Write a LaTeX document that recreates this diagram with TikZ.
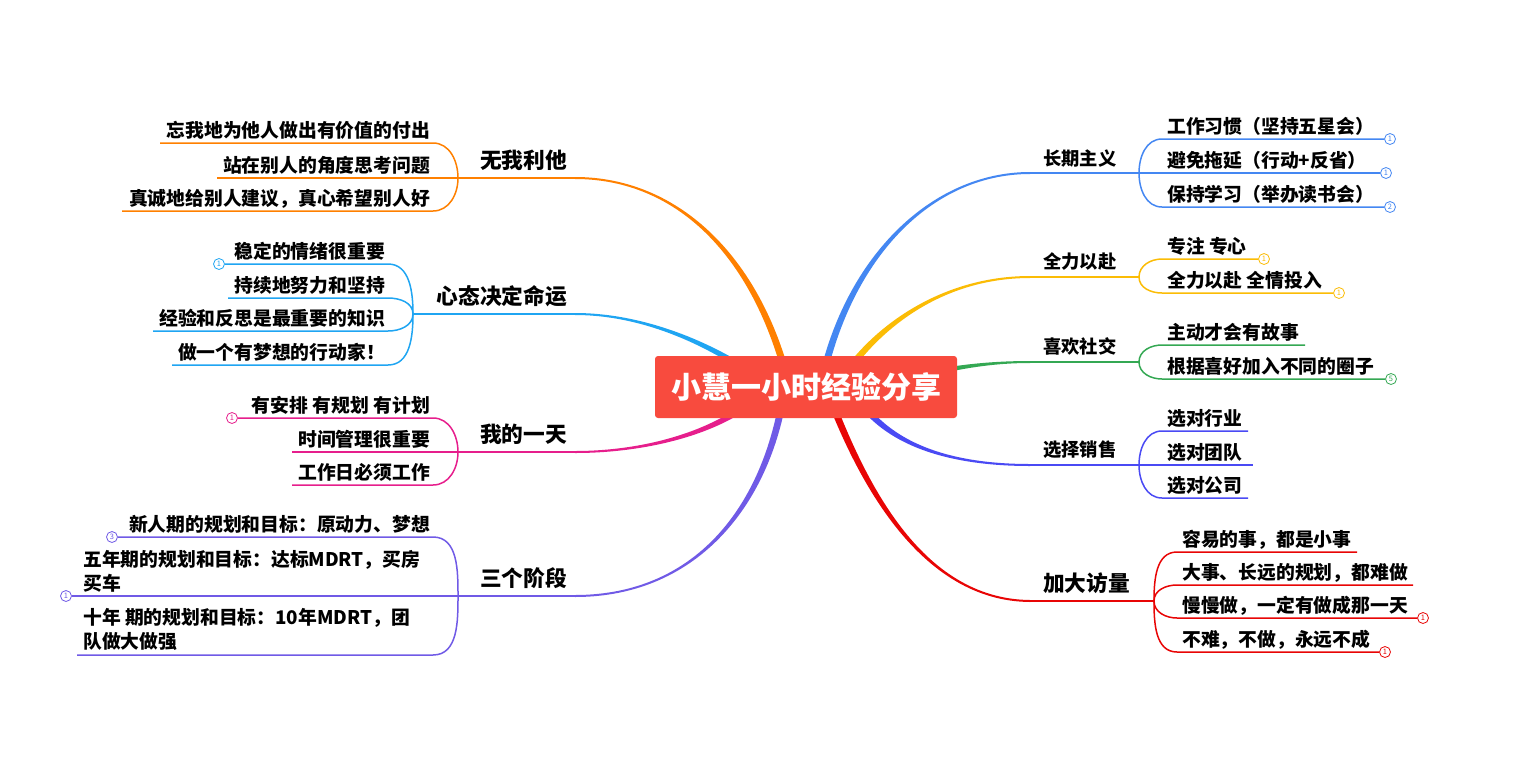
\documentclass[tikz,border=0pt]{standalone}
\usepackage{fontspec}
\setmainfont{Noto Sans CJK SC}
\usetikzlibrary{calc}
\pgfdeclarelayer{bg}
\pgfsetlayers{bg,main}
\definecolor{cOr}{HTML}{FF8000}
\definecolor{cLb}{HTML}{1FA5F2}
\definecolor{cMg}{HTML}{E61E8C}
\definecolor{cPu}{HTML}{705AE6}
\definecolor{cBl}{HTML}{4487F2}
\definecolor{cYe}{HTML}{FBBC05}
\definecolor{cGr}{HTML}{34A853}
\definecolor{cBv}{HTML}{4A4AF4}
\definecolor{cRd}{HTML}{E80505}
\definecolor{cRoot}{HTML}{F84B3E}
\tikzset{
 subl/.style={line width=1.5pt},
 mainu/.style={line width=2pt},
 subt/.style={inner sep=0pt, font=\bfseries\fontsize{18.8}{24}\selectfont},
 bigl/.style={inner sep=0pt, font=\bfseries\fontsize{21.7}{26}\selectfont},
 smalll/.style={inner sep=0pt, font=\bfseries\fontsize{18.3}{22}\selectfont},
 numdot/.style={circle, draw=#1, text=#1, fill=white, line width=0.8pt, minimum size=11pt, inner sep=0pt, font=\fontsize{7.5}{8}\selectfont},
 rootbox/.style={fill=cRoot, rounded corners=3pt, minimum width=302pt, minimum height=62pt, inner sep=0pt, text=white, font=\bfseries\fontsize{30}{34}\selectfont}
}
% tapered branch: color, start, control1, control2, end
\newcommand\taper[5]{%
 \coordinate (tA1) at ($#2!3.5pt!90:#3$);
 \coordinate (tA2) at ($#2!3.5pt!-90:#3$);
 \coordinate (tB1) at ($#5!1pt!-90:#4$);
 \coordinate (tB2) at ($#5!1pt!90:#4$);
 \fill[#1] (tA1) .. controls ($#3+(tA1)-#2$) and ($#4+(tB1)-#5$) .. (tB1) -- (tB2) .. controls ($#4+(tB2)-#5$) and ($#3+(tA2)-#2$) .. (tA2) -- cycle;
}
% left sub-topic: color, junction, junction x, out angle, y, line left x, name, text
\newcommand\lsub[8]{%
 \draw[subl,#1] (#2) to[out=#4,in=0] (#3-25,#5) -- (#6,#5);
 \node[subt,anchor=base east] (#7) at (#3-28,#5-5.5) {#8};
}
% right sub-topic: color, junction, junction x, out angle, y, line right x, name, text
\newcommand\rsub[8]{%
 \draw[subl,#1] (#2) to[out=#4,in=180] (#3+23,#5) -- (#6,#5);
 \node[subt,anchor=base west] (#7) at (#3+28,#5-5.5) {#8};
}
\begin{document}
\begin{tikzpicture}[x=1pt,y=-1pt]
\useasboundingbox (0,0) rectangle (1526,766);

\node[rootbox] (root) at (806,387) {小慧一小时经验分享};

% ---------- 无我利他 ----------
\coordinate (oJ) at (458,178); \coordinate (oE) at (575,178); \coordinate (oA) at (790,390);
\draw[mainu,cOr] (oE) -- (oJ);
\node[bigl,anchor=base east] (oL) at (567,168.5) {无我利他};
\lsub{cOr}{oJ}{458}{90}{143}{160}{o1}{忘我地为他人做出有价值的付出}
\lsub{cOr}{oJ}{458}{180}{178}{217}{o2}{站在别人的角度思考问题}
\lsub{cOr}{oJ}{458}{-90}{211}{122}{o3}{真诚地给别人建议，真心希望别人好}

% ---------- 心态决定命运 ----------
\coordinate (bJ) at (413,314); \coordinate (bE) at (575,314); \coordinate (bA) at (780,395);
\draw[mainu,cLb] (bE) -- (bJ);
\node[bigl,anchor=base east] (bL) at (567,304.5) {心态决定命运};
\lsub{cLb}{bJ}{413}{90}{264}{225}{b1}{稳定的情绪很重要}
\lsub{cLb}{bJ}{413}{90}{298}{228}{b2}{持续地努力和坚持}
\lsub{cLb}{bJ}{413}{-90}{331}{153}{b3}{经验和反思是最重要的知识}
\lsub{cLb}{bJ}{413}{-90}{365}{172}{b4}{做一个有梦想的行动家！}
\node[numdot=cLb] (bm1) at (219,264) {1};

% ---------- 我的一天 ----------
\coordinate (mJ) at (458,452); \coordinate (mE) at (575,452); \coordinate (mA) at (770,385);
\draw[mainu,cMg] (mE) -- (mJ);
\node[bigl,anchor=base east] (mL) at (567,442.5) {我的一天};
\lsub{cMg}{mJ}{458}{90}{418}{238}{m1}{有安排 有规划 有计划}
\lsub{cMg}{mJ}{458}{180}{452}{292}{m2}{时间管理很重要}
\lsub{cMg}{mJ}{458}{-90}{485}{292}{m3}{工作日必须工作}
\node[numdot=cMg] (mm1) at (232,418) {1};

% ---------- 三个阶段 ----------
\coordinate (pJ) at (458,596); \coordinate (pE) at (575,596); \coordinate (pA) at (785,385);
\draw[mainu,cPu] (pE) -- (pJ);
\node[bigl,anchor=base east] (pL) at (567,586.5) {三个阶段};
\lsub{cPu}{pJ}{458}{90}{537}{118}{p1}{新人期的规划和目标：原动力、梦想}
\draw[subl,cPu] (pJ) -- (72,596);
\node[subt,anchor=south west,align=left] (p2) at (83,592) {五年期的规划和目标：达标MDRT，买房\\买车};
\draw[subl,cPu] (pJ) to[out=-90,in=0] (433,655) -- (77,655);
\node[subt,anchor=south west,align=left] (p3) at (83,651) {十年 期的规划和目标：10年MDRT，团\\队做大做强};
\node[numdot=cPu] (pm1) at (112,537) {3};
\node[numdot=cPu] (pm2) at (66,596) {1};

% ---------- 长期主义 ----------
\coordinate (lJ) at (1139,173); \coordinate (lE) at (1030,173); \coordinate (lA) at (820,390);
\draw[mainu,cBl] (lE) -- (lJ);
\node[smalll,anchor=base west] (lL) at (1043,165) {长期主义};
\rsub{cBl}{lJ}{1139}{90}{139}{1384}{l1}{工作习惯（坚持五星会）}
\rsub{cBl}{lJ}{1139}{0}{173}{1380}{l2}{避免拖延（行动+反省）}
\rsub{cBl}{lJ}{1139}{-90}{207}{1384}{l3}{保持学习（举办读书会）}
\node[numdot=cBl] (lm1) at (1390,139) {1};
\node[numdot=cBl] (lm2) at (1386,173) {1};
\node[numdot=cBl] (lm3) at (1390,207) {2};

% ---------- 全力以赴 ----------
\coordinate (yJ) at (1139,277); \coordinate (yE) at (1030,277); \coordinate (yA) at (835,390);
\draw[mainu,cYe] (yE) -- (yJ);
\node[smalll,anchor=base west] (yL) at (1043,268) {全力以赴};
\rsub{cYe}{yJ}{1139}{90}{259}{1258}{y1}{专注 专心}
\rsub{cYe}{yJ}{1139}{-90}{293}{1333}{y2}{全力以赴 全情投入}
\node[numdot=cYe] (ym1) at (1264,259) {1};
\node[numdot=cYe] (ym2) at (1339,293) {1};

% ---------- 喜欢社交 ----------
\coordinate (gJ) at (1139,362); \coordinate (gE) at (1030,362); \coordinate (gA) at (880,385);
\draw[mainu,cGr] (gE) -- (gJ);
\node[smalll,anchor=base west] (gL) at (1043,353) {喜欢社交};
\rsub{cGr}{gJ}{1139}{90}{345}{1305}{g1}{主动才会有故事}
\rsub{cGr}{gJ}{1139}{-90}{379}{1385}{g2}{根据喜好加入不同的圈子}
\node[numdot=cGr] (gm1) at (1391,379) {5};

% ---------- 选择销售 ----------
\coordinate (vJ) at (1139,465); \coordinate (vE) at (1030,465); \coordinate (vA) at (850,385);
\draw[mainu,cBv] (vE) -- (vJ);
\node[smalll,anchor=base west] (vL) at (1043,456) {选择销售};
\rsub{cBv}{vJ}{1139}{90}{431}{1248}{v1}{选对行业}
\rsub{cBv}{vJ}{1139}{0}{465}{1253}{v2}{选对团队}
\rsub{cBv}{vJ}{1139}{-90}{498}{1248}{v3}{选对公司}

% ---------- 加大访量 ----------
\coordinate (rJ) at (1154,601); \coordinate (rE) at (1030,601); \coordinate (rA) at (825,385);
\draw[mainu,cRd] (rE) -- (rJ);
\node[bigl,anchor=base west] (rL) at (1043,591.5) {加大访量};
\rsub{cRd}{rJ}{1154}{90}{552}{1357}{r1}{容易的事，都是小事}
\rsub{cRd}{rJ}{1154}{90}{585}{1413}{r2}{大事、长远的规划，都难做}
\rsub{cRd}{rJ}{1154}{-90}{618}{1417}{r3}{慢慢做，一定有做成那一天}
\rsub{cRd}{rJ}{1154}{-90}{652}{1379}{r4}{不难，不做，永远不成}
\node[numdot=cRd] (rm1) at (1423,618) {1};
\node[numdot=cRd] (rm2) at (1385,652) {1};

% ---------- tapered main branches ----------
\begin{pgfonlayer}{bg}
\taper{cOr}{(oA)}{(760,260)}{(680,178)}{(oE)}
\taper{cLb}{(bA)}{(740,360)}{(660,314)}{(bE)}
\taper{cMg}{(mA)}{(730,430)}{(650,452)}{(mE)}
\taper{cPu}{(pA)}{(770,500)}{(700,596)}{(pE)}
\taper{cBl}{(lA)}{(845,260)}{(930,173)}{(lE)}
\taper{cYe}{(yA)}{(870,330)}{(940,277)}{(yE)}
\taper{cGr}{(gA)}{(930,372)}{(975,362)}{(gE)}
\taper{cBv}{(vA)}{(880,445)}{(950,465)}{(vE)}
\taper{cRd}{(rA)}{(860,480)}{(920,600)}{(rE)}
\end{pgfonlayer}
\end{tikzpicture}
\end{document}
